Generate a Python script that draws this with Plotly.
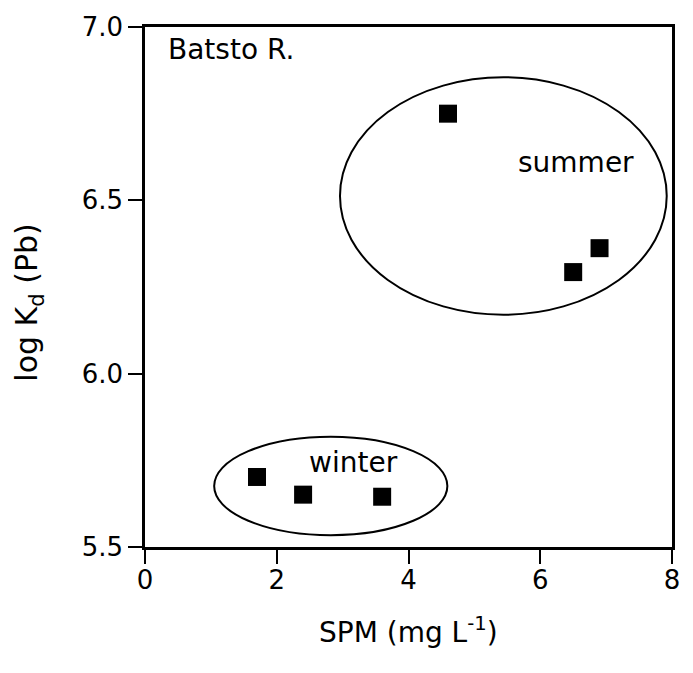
import plotly.graph_objects as go

# Data
summer_spm = [4.6, 6.5, 6.9]
summer_logkd = [6.75, 6.293, 6.362]
winter_spm = [1.7, 2.4, 3.6]
winter_logkd = [5.702, 5.651, 5.645]

# Ellipse bounds (data units): x0, x1, y0, y1
summer_ellipse = [2.96, 7.92, 6.17, 6.855]
winter_ellipse = [1.05, 4.59, 5.534, 5.818]

x_ticks = [0, 2, 4, 6, 8]
y_ticks = [5.5, 6.0, 6.5, 7.0]
y_ticklabels = ["5.5", "6.0", "6.5", "7.0"]

FONT = "DejaVu Sans"

fig = go.Figure()
fig.add_trace(go.Scatter(x=summer_spm + winter_spm, y=summer_logkd + winter_logkd,
                         mode="markers",
                         marker=dict(symbol="square", size=18, color="black"),
                         showlegend=False, hoverinfo="skip"))

for e in (summer_ellipse, winter_ellipse):
    fig.add_shape(type="circle", xref="x", yref="y", x0=e[0], x1=e[1], y0=e[2], y1=e[3],
                  line=dict(color="black", width=2), layer="below")

fig.add_annotation(x=1.3, y=6.935, xref="x", yref="y", text="Batsto R.", showarrow=False,
                   font=dict(family=FONT, size=28, color="black"))
fig.add_annotation(x=6.55, y=6.61, xref="x", yref="y", text="summer", showarrow=False,
                   font=dict(family=FONT, size=28, color="black"))
fig.add_annotation(x=3.16, y=5.745, xref="x", yref="y", text="winter", showarrow=False,
                   font=dict(family=FONT, size=28, color="black"))

# Axis titles
fig.add_annotation(x=0.5, y=-0.16, xref="paper", yref="paper",
                   text="SPM (mg L<sup>-1</sup>)", showarrow=False, yanchor="middle",
                   font=dict(family=FONT, size=28, color="black"))
fig.add_annotation(x=-0.22, y=0.47, xref="paper", yref="paper",
                   text="log K<sub>d</sub> (Pb)", showarrow=False, textangle=-90,
                   xanchor="center", yanchor="middle",
                   font=dict(family=FONT, size=30, color="black"))

fig.update_xaxes(range=[0, 8], tickvals=x_ticks, ticks="outside", ticklen=14, tickwidth=2,
                 tickcolor="black", showline=True, linecolor="black", linewidth=2.5,
                 mirror=True, showgrid=False, zeroline=False, ticklabelstandoff=-6,
                 tickfont=dict(family=FONT, size=26, color="black"))
fig.update_yaxes(range=[5.5, 7.0], tickvals=y_ticks, ticktext=y_ticklabels, ticks="outside",
                 ticklen=14, tickwidth=2, tickcolor="black", showline=True,
                 linecolor="black", linewidth=2.5, mirror=True, showgrid=False,
                 zeroline=False, tickfont=dict(family=FONT, size=26, color="black"))

fig.update_layout(width=693, height=673, margin=dict(l=145, r=21, t=19, b=126),
                  plot_bgcolor="white", paper_bgcolor="white")

fig.write_html("out.html")
